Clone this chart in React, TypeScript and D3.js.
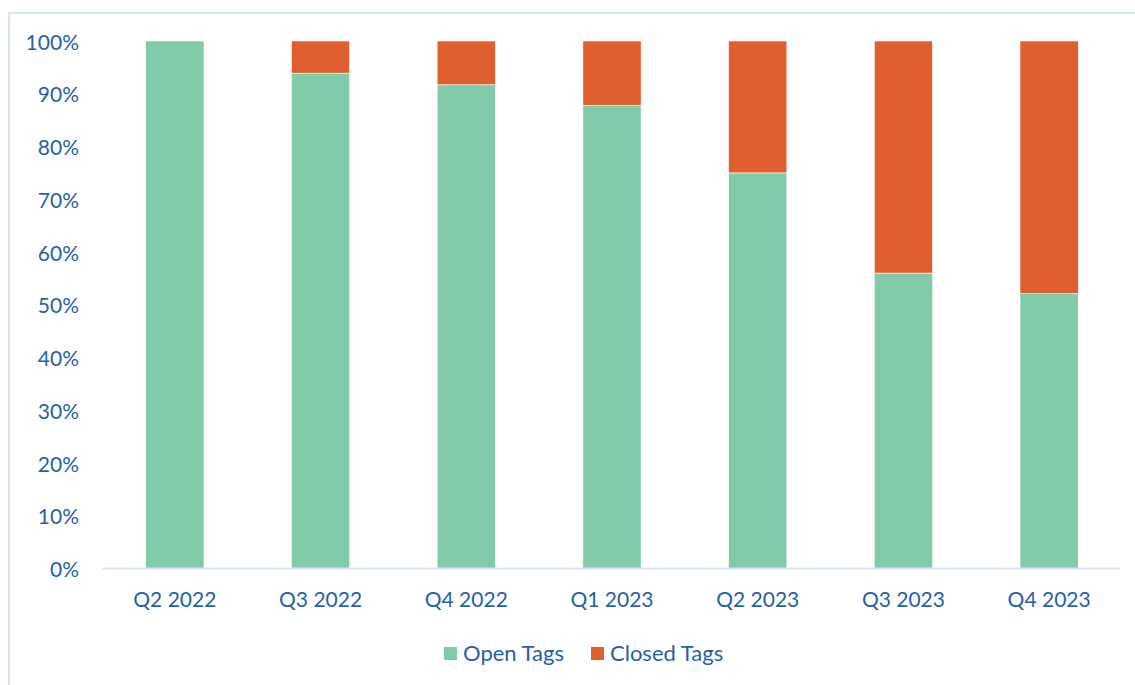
import React from "react";
import * as d3 from "d3";

const categories = ["Q2 2022", "Q3 2022", "Q4 2022", "Q1 2023", "Q2 2023", "Q3 2023", "Q4 2023"];
const openTags = [100, 93.9, 91.7, 87.8, 75.0, 56.0, 52.1];
const closedTags = [0, 6.1, 8.3, 12.2, 25.0, 44.0, 47.9];
const yTicks = [0, 10, 20, 30, 40, 50, 60, 70, 80, 90, 100];
const seriesNames = ["Open Tags", "Closed Tags"];
const seriesColors = ["#82CBA9", "#E05F30"];

const W = 1135;
const H = 685;
const TEXT = "#1F62A8";
const FONT = "Lato, 'Open Sans', sans-serif";

export default function App() {
  const x = d3.scaleBand<string>().domain(categories).range([102, 1122]).paddingInner(0.6).paddingOuter(0.3);
  const y = d3.scaleLinear().domain([0, 100]).range([568.5, 41]);

  const rows = categories.map((c, i) => ({ cat: c, open: openTags[i], closed: closedTags[i] }));
  const stack = d3.stack<any>().keys(["open", "closed"])(rows);

  return (
    <svg width={W} height={H} style={{ position: "absolute", left: 0, top: 0, background: "#fff" }}>
      <rect x={9} y={13} width={W + 10} height={H + 10} fill="none" stroke="#D6E6F8" strokeWidth={2} />
      {yTicks.map((t) => (
        <text key={t} x={79} y={y(t)} textAnchor="end" dominantBaseline="central" fontFamily={FONT} fontSize={21} fill={TEXT}>
          {t}%
        </text>
      ))}
      {stack.map((s, si) =>
        s.map((d, i) => {
          const h = y(d[0]) - y(d[1]);
          if (h <= 0) return null;
          return (
            <rect
              key={si + "-" + i}
              x={x(categories[i])}
              y={y(d[1])}
              width={x.bandwidth()}
              height={h}
              fill={seriesColors[si]}
              stroke="#fff"
              strokeWidth={0.6}
            />
          );
        })
      )}
      <line x1={102} x2={1120} y1={y(0)} y2={y(0)} stroke="#D6E6F8" strokeWidth={2} />
      {categories.map((c) => (
        <text key={c} x={(x(c) as number) + x.bandwidth() / 2} y={607} textAnchor="middle" fontFamily={FONT} fontSize={21} fill={TEXT}>
          {c}
        </text>
      ))}
      <g>
        <rect x={444} y={647} width={13} height={13} fill={seriesColors[0]} />
        <text x={463} y={661} fontFamily={FONT} fontSize={22} fill={TEXT}>{seriesNames[0]}</text>
        <rect x={591} y={647} width={13} height={13} fill={seriesColors[1]} />
        <text x={610} y={661} fontFamily={FONT} fontSize={22} fill={TEXT}>{seriesNames[1]}</text>
      </g>
    </svg>
  );
}
